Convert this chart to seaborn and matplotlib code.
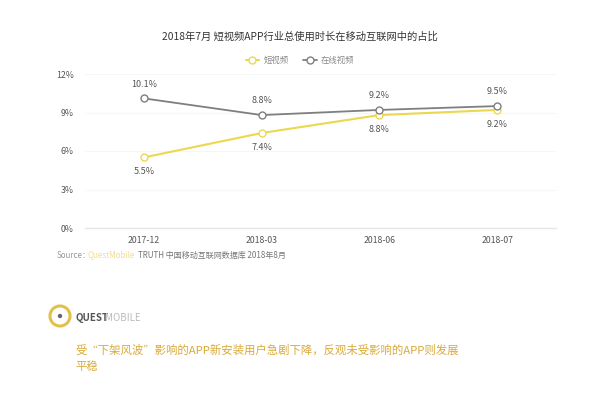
import matplotlib
matplotlib.use("Agg")
import matplotlib.pyplot as plt
import seaborn as sns
import pandas as pd
from matplotlib.patches import Circle
from matplotlib.transforms import IdentityTransform

# chart data
months = ["2017-12", "2018-03", "2018-06", "2018-07"]
short_video = [5.5, 7.4, 8.8, 9.2]
online_video = [10.1, 8.8, 9.2, 9.5]
y_ticks = [0, 3, 6, 9, 12]

sns.set_style("white")
plt.rcParams['font.family'] = ['Noto Sans CJK SC', 'DejaVu Sans']

YELLOW = "#ecd84f"
GRAY = "#7f7f7f"
TEXT = "#555555"
H = 393

df = pd.DataFrame({"month": months, "短视频": short_video, "在线视频": online_video})

fig = plt.figure(figsize=(6, 3.93), dpi=100)
fig.patch.set_facecolor("white")

# axes placed so 0% sits at y=228px and 12% at y=74px
ax = fig.add_axes([85 / 600, 1 - 228 / H, 471 / 600, 154 / H])

sns.lineplot(data=df, x="month", y="短视频", ax=ax, color=YELLOW, lw=1.5,
             marker="o", markersize=5, markerfacecolor="white",
             markeredgecolor=YELLOW, markeredgewidth=1, label="短视频", zorder=3)
sns.lineplot(data=df, x="month", y="在线视频", ax=ax, color=GRAY, lw=1.3,
             marker="o", markersize=5, markerfacecolor="white",
             markeredgecolor=GRAY, markeredgewidth=1, label="在线视频", zorder=3)

ax.set_xlim(-0.5, len(months) - 0.5)
ax.set_ylim(0, 12)
ax.set_yticks(y_ticks)
ax.set_yticklabels([f"{t}%" for t in y_ticks])
ax.set_xlabel("")
ax.set_ylabel("")
ax.tick_params(axis="both", length=0, labelsize=6.3, colors=TEXT)
ax.tick_params(axis="x", pad=6)
ax.tick_params(axis="y", pad=8)
for s in ["top", "right", "left"]:
    ax.spines[s].set_visible(False)
ax.spines["bottom"].set_color("#e6e6e6")
ax.spines["bottom"].set_linewidth(1)
ax.yaxis.grid(True, color="#f6f6f6", lw=0.8)
ax.set_axisbelow(True)

# data labels
for i, (a, b) in enumerate(zip(short_video, online_video)):
    ax.annotate(f"{b}%", (i, b), xytext=(0, 7), textcoords="offset points",
                ha="center", va="bottom", fontsize=6.5, color=TEXT)
    ax.annotate(f"{a}%", (i, a), xytext=(0, -7), textcoords="offset points",
                ha="center", va="top", fontsize=6.5, color=TEXT)

ax.legend(loc="center", bbox_to_anchor=(0.5, 1 - 60 / H),
          bbox_transform=fig.transFigure, ncol=2, frameon=False,
          fontsize=6, handlelength=1.6, columnspacing=1.8,
          handletextpad=0.5, labelcolor="#888888")

fig.text(0.5, 1 - 37 / H, "2018年7月 短视频APP行业总使用时长在移动互联网中的占比",
         ha="center", va="center", fontsize=7.4, color="#333333")

# source line
fig.text(57 / 600, 1 - 255 / H, "Source：", ha="left", va="center",
         fontsize=5.8, color="#999999")
fig.text(88 / 600, 1 - 255 / H, "QuestMobile", ha="left", va="center",
         fontsize=5.8, color="#f1df8a")
fig.text(138 / 600, 1 - 255 / H, "TRUTH 中国移动互联网数据库 2018年8月",
         ha="left", va="center", fontsize=5.8, color="#777777")

# logo (pixel coordinates, origin bottom-left)
logo = Circle((60, H - 316), 10, transform=IdentityTransform(),
              fill=False, ec="#e2c04a", lw=2.2)
fig.patches.append(logo)
dot = Circle((60, H - 316), 1.5, transform=IdentityTransform(), color="#666666")
fig.patches.append(dot)
fig.text(75 / 600, 1 - 318 / H, "QUEST", ha="left", va="center",
         fontsize=7, fontweight="bold", color="#555555")
fig.text(105 / 600, 1 - 318 / H, "MOBILE", ha="left", va="center",
         fontsize=7, color="#bbbbbb")

# headline
fig.text(75 / 600, 1 - 350 / H,
         "受“下架风波”影响的APP新安装用户急剧下降，反观未受影响的APP则发展",
         ha="left", va="center", fontsize=8.2, color="#d9aa3a")
fig.text(75 / 600, 1 - 367 / H, "平稳", ha="left", va="center",
         fontsize=8.2, color="#d9aa3a")

fig.savefig("out.png", dpi=100, facecolor="white")
